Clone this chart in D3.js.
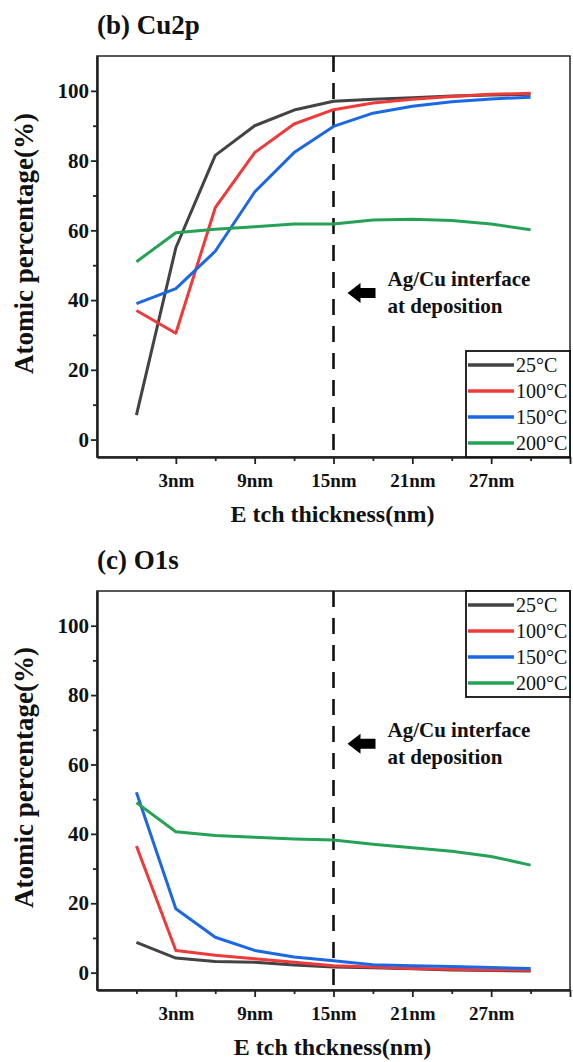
<!DOCTYPE html>
<html>
<head>
<meta charset="utf-8">
<script src="https://cdnjs.cloudflare.com/ajax/libs/d3/7.8.5/d3.min.js"></script>
<style>
    body { margin: 0; background: #fff; }
</style>
</head>
<body>
<div id="chart"></div>
<script>
// etch depth of each profile step (nm)
var thickness = [0, 3, 6, 9, 12, 15, 18, 21, 24, 27, 30];

var seriesNames = ["25°C", "100°C", "150°C", "200°C"];
var seriesColors = ["#434343", "#ef3a3a", "#1c68e3", "#25a255"];

// (b) Cu2p atomic percentage
var cu25 = [7, 55, 81.5, 90, 94.5, 97, 97.6, 98, 98.5, 98.8, 99];
var cu100 = [37, 30.5, 66.5, 82.3, 90.5, 94.6, 96.5, 97.6, 98.4, 99, 99.3];
var cu150 = [39, 43.3, 54, 71, 82.3, 89.8, 93.6, 95.6, 96.9, 97.7, 98.2];
var cu200 = [51, 59.3, 60.3, 61, 61.8, 61.8, 63, 63.2, 62.8, 61.8, 60.2];

// (c) O1s atomic percentage
var o25 = [8.7, 4.2, 3.2, 3, 2.2, 1.6, 1.4, 1.1, 0.8, 0.6, 0.5];
var o100 = [36.5, 6.4, 5, 4, 3, 2, 1.6, 1.2, 1, 0.8, 0.7];
var o150 = [52, 18.4, 10.2, 6.4, 4.5, 3.4, 2.3, 2, 1.8, 1.5, 1.2];
var o200 = [49, 40.6, 39.5, 39, 38.5, 38.2, 37, 36, 35, 33.5, 31];

var xTicks = [3, 9, 15, 21, 27, 33];
var xTickLabels = ["3nm", "9nm", "15nm", "21nm", "27nm", ""];
var xMinorTicks = [0, 6, 12, 18, 24, 30];
var yTicks = [0, 20, 40, 60, 80, 100];
var yMinorTicks = [10, 30, 50, 70, 90];
var interfaceDepth = 15;

var panels = [
    {title: "(b) Cu2p", xTitle: "E tch thickness(nm)", series: [cu25, cu100, cu150, cu200],
        top: 56, bottom: 457, legendTop: false, noteY: 42},
    {title: "(c) O1s", xTitle: "E tch thckness(nm)", series: [o25, o100, o150, o200],
        top: 591, bottom: 990, legendTop: true, noteY: 66}
];

var FONT = "Liberation Serif";

var svg = d3.select("#chart").append("svg")
    .attr("width", 573)
    .attr("height", 1062);

var left = 97, right = 570;

function boldText(sel, size) {
    return sel.style("font-family", FONT)
        .style("font-weight", "bold")
        .style("font-size", size + "px")
        .style("fill", "#111");
}

panels.forEach(function (p) {
    var x = d3.scaleLinear().domain([-3, 33]).range([left, right]);
    var y = d3.scaleLinear().domain([-5, 110]).range([p.bottom, p.top]);
    var g = svg.append("g");

    // panel title
    boldText(g.append("text"), 27)
        .attr("x", left)
        .attr("y", p.top - 22)
        .text(p.title);

    // frame
    g.append("rect")
        .attr("x", left).attr("y", p.top)
        .attr("width", right - left).attr("height", p.bottom - p.top)
        .style("fill", "none")
        .style("stroke", "#222")
        .style("stroke-width", 1.5);

    // x axis, major + minor
    var xAxis = g.append("g")
        .attr("transform", "translate(0," + p.bottom + ")")
        .call(d3.axisBottom(x).tickValues(xTicks).tickSize(7).tickSizeOuter(0)
            .tickFormat(function (d, i) { return xTickLabels[i]; }));
    g.append("g")
        .attr("transform", "translate(0," + p.bottom + ")")
        .call(d3.axisBottom(x).tickValues(xMinorTicks).tickSize(4).tickSizeOuter(0).tickFormat(""));
    boldText(xAxis.selectAll("text"), 19)
        .attr("dy", 0)
        .attr("y", 30);

    // y axis, major + minor
    var yAxis = g.append("g")
        .attr("transform", "translate(" + left + ",0)")
        .call(d3.axisLeft(y).tickValues(yTicks).tickSize(6).tickSizeOuter(0));
    g.append("g")
        .attr("transform", "translate(" + left + ",0)")
        .call(d3.axisLeft(y).tickValues(yMinorTicks).tickSize(4).tickSizeOuter(0).tickFormat(""));
    boldText(yAxis.selectAll("text"), 21)
        .attr("x", -8);

    g.selectAll(".domain").style("stroke", "#222").style("stroke-width", 2);
    g.selectAll(".tick line").style("stroke", "#222").style("stroke-width", 1.8);

    // axis titles
    boldText(g.append("text"), 24)
        .attr("x", (left + right) / 2 - 1)
        .attr("y", p.bottom + 65)
        .attr("text-anchor", "middle")
        .text(p.xTitle);

    boldText(g.append("text"), 27)
        .attr("text-anchor", "middle")
        .attr("transform", "translate(33," + ((p.top + p.bottom) / 2 - 13) + ")rotate(-90)")
        .text("Atomic percentage(%)");

    // dashed interface line
    g.append("line")
        .attr("x1", x(interfaceDepth)).attr("x2", x(interfaceDepth))
        .attr("y1", y(110)).attr("y2", y(-5))
        .style("stroke", "#111")
        .style("stroke-width", 2.6)
        .style("stroke-dasharray", "16,11");

    // arrow + note
    var ax = x(interfaceDepth), ay = y(p.noteY);
    g.append("path")
        .attr("d", "M" + (ax + 14) + "," + ay +
            "L" + (ax + 27) + "," + (ay - 10) +
            "L" + (ax + 27) + "," + (ay - 5) +
            "L" + (ax + 42) + "," + (ay - 5) +
            "L" + (ax + 42) + "," + (ay + 5) +
            "L" + (ax + 27) + "," + (ay + 5) +
            "L" + (ax + 27) + "," + (ay + 10) + "Z")
        .style("fill", "#000");
    boldText(g.append("text"), 21)
        .attr("x", ax + 54).attr("y", ay - 7)
        .text("Ag/Cu interface");
    boldText(g.append("text"), 21)
        .attr("x", ax + 54).attr("y", ay + 20)
        .text("at deposition");

    // series lines
    var line = d3.line()
        .x(function (d, i) { return x(thickness[i]); })
        .y(function (d) { return y(d); });
    p.series.forEach(function (s, k) {
        g.append("path")
            .datum(s)
            .attr("d", line)
            .style("fill", "none")
            .style("stroke", seriesColors[k])
            .style("stroke-width", 3)
            .style("stroke-linejoin", "round");
    });

    // legend
    var lw = 104, lh = 106;
    var lx = right - lw;
    var ly = p.legendTop ? p.top : p.bottom - lh;
    var leg = g.append("g").attr("transform", "translate(" + lx + "," + ly + ")");
    leg.append("rect")
        .attr("width", lw).attr("height", lh)
        .style("fill", "#fff")
        .style("stroke", "#111")
        .style("stroke-width", 1.8);
    seriesNames.forEach(function (name, k) {
        var ry = 14 + k * 26;
        leg.append("line")
            .attr("x1", 2).attr("x2", 48)
            .attr("y1", ry).attr("y2", ry)
            .style("stroke", seriesColors[k])
            .style("stroke-width", 3.5);
        leg.append("text")
            .attr("x", 50).attr("y", ry + 7)
            .style("font-family", FONT)
            .style("font-size", "20px")
            .style("fill", "#111")
            .text(name);
    });
});
</script>
</body>
</html>
